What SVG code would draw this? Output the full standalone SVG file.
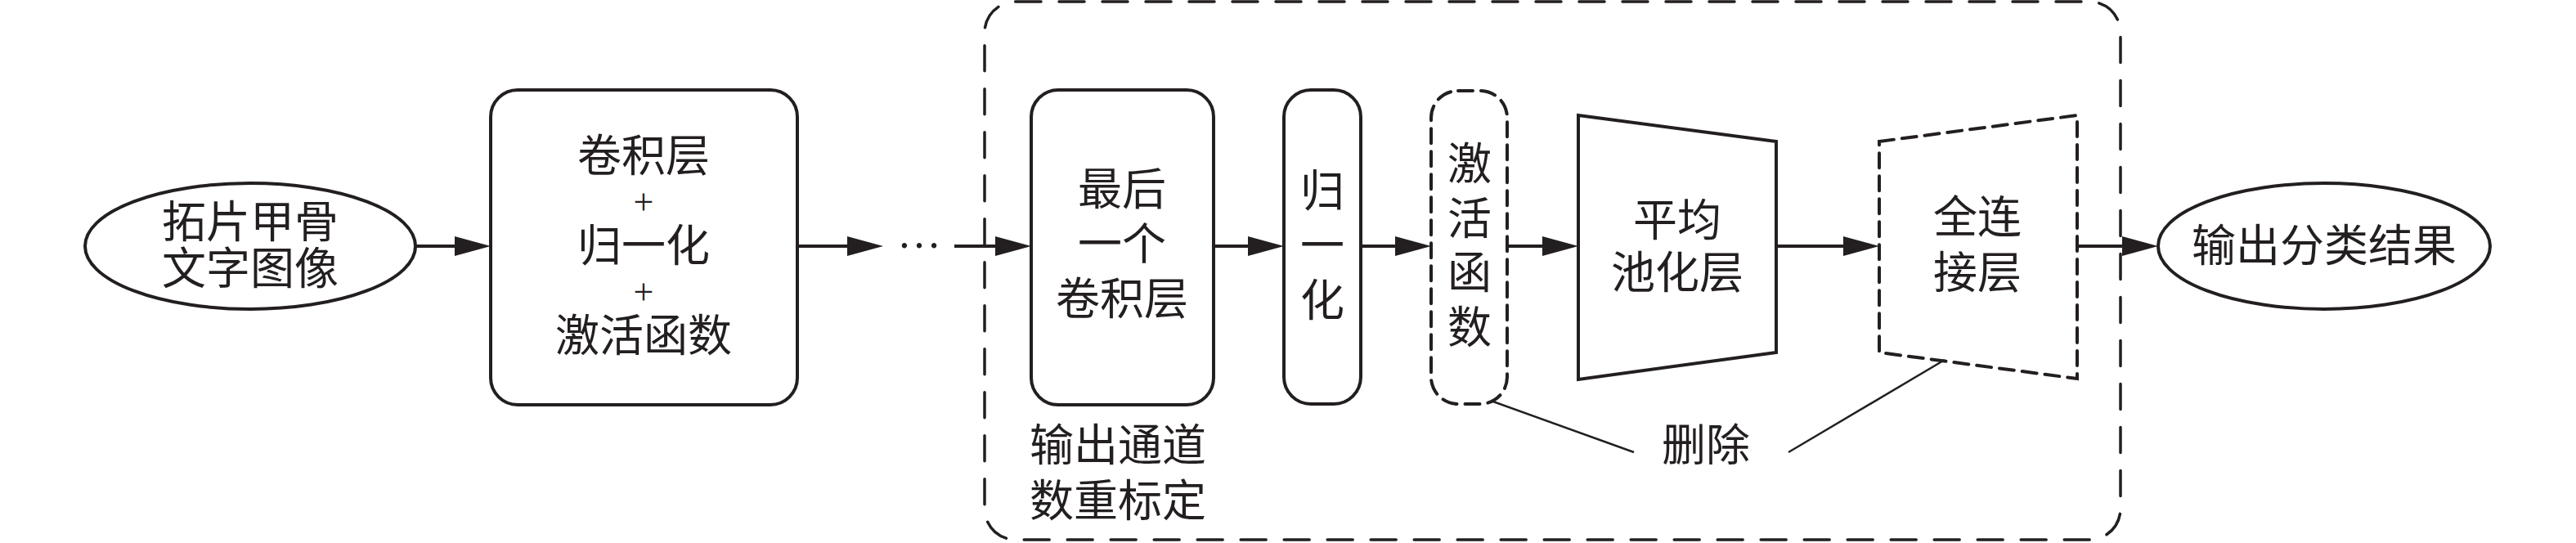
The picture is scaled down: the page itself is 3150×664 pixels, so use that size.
<svg xmlns="http://www.w3.org/2000/svg" width="3150" height="664" viewBox="0 0 3150 664">
<style>
.s{fill:none;stroke:#231f20;stroke-width:4}
.d{fill:none;stroke:#231f20;stroke-width:4;stroke-dasharray:18 10;stroke-linecap:round}
.o{fill:none;stroke:#231f20;stroke-width:3.5;stroke-dasharray:31 22;stroke-linecap:round}
.c{fill:none;stroke:#231f20;stroke-width:4}
.t{fill:none;stroke:#231f20;stroke-width:2.5}
text{font-family:"Liberation Serif","Noto Sans CJK SC",serif;font-size:54px;fill:#231f20;text-anchor:middle}
.l{text-anchor:start}
.p{font-size:44px}
</style>
<defs>
<marker id="ah" markerUnits="userSpaceOnUse" markerWidth="46" markerHeight="26" refX="0" refY="12" orient="auto" viewBox="0 0 46 24" overflow="visible">
<path d="M0,0 L44,12 L0,24 z" fill="#231f20"/>
</marker>
</defs>
<g id="frame">
<rect class="o" x="1204" y="2" width="1389" height="658" rx="38"/>
</g>
<g id="input">
<ellipse class="s" cx="306" cy="301" rx="202" ry="77"/>
<text x="306" y="291">拓片甲骨</text>
<text x="306" y="348">文字图像</text>
</g>
<g id="block">
<rect class="s" x="600" y="110" width="375" height="385" rx="33"/>
<text x="787" y="210">卷积层</text>
<text class="p" x="787" y="262">+</text>
<text x="787" y="320">归一化</text>
<text class="p" x="787" y="372">+</text>
<text x="787" y="430">激活函数</text>
</g>
<g id="dots">
<text x="1124" y="303">…</text>
</g>
<g id="lastconv">
<rect class="s" x="1261" y="110" width="223" height="385" rx="33"/>
<text x="1372" y="251">最后</text>
<text x="1372" y="318">一个</text>
<text x="1372" y="385">卷积层</text>
</g>
<g id="norm">
<rect class="s" x="1570" y="110" width="94" height="384" rx="33"/>
<text x="1617" y="253">归</text>
<text x="1617" y="320">一</text>
<text x="1617" y="387">化</text>
</g>
<g id="act">
<rect class="d" x="1750" y="111" width="93" height="383" rx="33"/>
<text x="1797" y="220">激</text>
<text x="1797" y="287">活</text>
<text x="1797" y="353">函</text>
<text x="1797" y="420">数</text>
</g>
<g id="pool">
<polygon class="s" points="1930,141 2172,173 2172,431 1930,464"/>
<text x="2051" y="289">平均</text>
<text x="2051" y="353">池化层</text>
</g>
<g id="fc">
<polygon class="d" points="2298,173 2540,141 2540,463 2298,431"/>
<text x="2418" y="285">全连</text>
<text x="2418" y="353">接层</text>
</g>
<g id="output">
<ellipse class="s" cx="2842" cy="301" rx="203" ry="77"/>
<text x="2842" y="320">输出分类结果</text>
</g>
<g id="note-recal">
<text class="l" x="1259" y="564">输出通道</text>
<text class="l" x="1259" y="632">数重标定</text>
</g>
<g id="note-delete">
<text x="2086" y="564">删除</text>
</g>
<g id="connectors">
<line class="c" x1="509" y1="301" x2="556" y2="301" marker-end="url(#ah)"/>
<line class="c" x1="975" y1="301" x2="1036" y2="301" marker-end="url(#ah)"/>
<line class="c" x1="1167" y1="301" x2="1217" y2="301" marker-end="url(#ah)"/>
<line class="c" x1="1484" y1="301" x2="1526" y2="301" marker-end="url(#ah)"/>
<line class="c" x1="1664" y1="301" x2="1706" y2="301" marker-end="url(#ah)"/>
<line class="c" x1="1843" y1="301" x2="1886" y2="301" marker-end="url(#ah)"/>
<line class="c" x1="2172" y1="301" x2="2254" y2="301" marker-end="url(#ah)"/>
<line class="c" x1="2540" y1="301" x2="2595" y2="301" marker-end="url(#ah)"/>
<line class="t" x1="1823" y1="490" x2="1998" y2="553"/>
<line class="t" x1="2378" y1="440" x2="2187" y2="553"/>
</g>
</svg>
